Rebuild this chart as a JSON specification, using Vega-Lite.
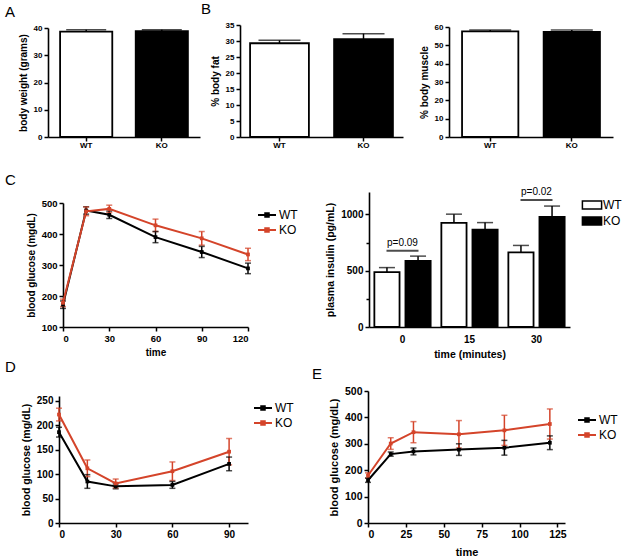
{
  "$schema": "https://vega.github.io/schema/vega-lite/v6.json",
  "padding": {"left": 5, "top": 2, "right": 0, "bottom": 0},
  "background": "white",
  "config": {
    "view": {"stroke": null},
    "font": "Liberation Sans",
    "axis": {"grid": false, "labelOverlap": false, "domainColor": "black", "domainWidth": 1.6, "tickColor": "black", "tickWidth": 1.5, "tickSize": 4, "labelColor": "black", "labelFont": "Liberation Sans", "labelFontWeight": "bold", "labelPadding": 2, "titleFont": "Liberation Sans", "titleFontWeight": "bold", "titleColor": "black", "titlePadding": 5},
    "legend": {"labelFont": "Liberation Sans", "labelColor": "black", "labelFontWeight": "normal", "labelFontSize": 12, "symbolOpacity": 1},
    "title": {"font": "Liberation Sans", "fontSize": 15, "fontWeight": "normal", "anchor": "start", "frame": "group", "color": "black"}
  },
  "datasets": {
    "none": [],
    "bodyweight": [{"genotype": "WT", "value": 38.65, "hi": 39.4}, {"genotype": "KO", "value": 38.8, "hi": 39.4}],
    "fat": [{"genotype": "WT", "value": 29.3, "hi": 30.2}, {"genotype": "KO", "value": 30.6, "hi": 32.3}],
    "muscle": [{"genotype": "WT", "value": 57.6, "hi": 58.3}, {"genotype": "KO", "value": 57.3, "hi": 58.3}],
    "gtt": [
      {"genotype": "WT", "time": 0, "value": 172, "lo": 160, "hi": 184},
      {"genotype": "WT", "time": 15, "value": 476, "lo": 464, "hi": 488},
      {"genotype": "WT", "time": 30, "value": 462, "lo": 450, "hi": 474},
      {"genotype": "WT", "time": 60, "value": 390, "lo": 372, "hi": 408},
      {"genotype": "WT", "time": 90, "value": 342, "lo": 324, "hi": 360},
      {"genotype": "WT", "time": 120, "value": 289, "lo": 272, "hi": 306},
      {"genotype": "KO", "time": 0, "value": 178, "lo": 166, "hi": 190},
      {"genotype": "KO", "time": 15, "value": 473, "lo": 459, "hi": 487},
      {"genotype": "KO", "time": 30, "value": 481, "lo": 469, "hi": 493},
      {"genotype": "KO", "time": 60, "value": 428, "lo": 408, "hi": 448},
      {"genotype": "KO", "time": 90, "value": 386, "lo": 364, "hi": 408},
      {"genotype": "KO", "time": 120, "value": 334, "lo": 314, "hi": 354}
    ],
    "insulin": [
      {"time": "0", "genotype": "WT", "value": 487, "hi": 528},
      {"time": "0", "genotype": "KO", "value": 588, "hi": 630},
      {"time": "15", "genotype": "WT", "value": 925, "hi": 1003},
      {"time": "15", "genotype": "KO", "value": 866, "hi": 928},
      {"time": "30", "genotype": "WT", "value": 663, "hi": 725},
      {"time": "30", "genotype": "KO", "value": 979, "hi": 1075}
    ],
    "sig": [
      {"time": "0", "y": 678, "label": "p=0.09"},
      {"time": "30", "y": 1128, "label": "p=0.02"}
    ],
    "itt": [
      {"genotype": "WT", "time": 0, "value": 186, "lo": 176, "hi": 196},
      {"genotype": "WT", "time": 15, "value": 85, "lo": 71, "hi": 99},
      {"genotype": "WT", "time": 30, "value": 75, "lo": 70, "hi": 80},
      {"genotype": "WT", "time": 60, "value": 78, "lo": 71, "hi": 85},
      {"genotype": "WT", "time": 90, "value": 121, "lo": 107, "hi": 135},
      {"genotype": "KO", "time": 0, "value": 222, "lo": 209, "hi": 235},
      {"genotype": "KO", "time": 15, "value": 112, "lo": 95, "hi": 129},
      {"genotype": "KO", "time": 30, "value": 81, "lo": 72, "hi": 90},
      {"genotype": "KO", "time": 60, "value": 106, "lo": 87, "hi": 125},
      {"genotype": "KO", "time": 90, "value": 146, "lo": 119, "hi": 173}
    ],
    "ptt": [
      {"genotype": "WT", "time": 0, "value": 162, "lo": 154, "hi": 170},
      {"genotype": "WT", "time": 15, "value": 261, "lo": 253, "hi": 269},
      {"genotype": "WT", "time": 30, "value": 271, "lo": 258, "hi": 284},
      {"genotype": "WT", "time": 60, "value": 278, "lo": 256, "hi": 300},
      {"genotype": "WT", "time": 90, "value": 285, "lo": 257, "hi": 313},
      {"genotype": "WT", "time": 120, "value": 304, "lo": 278, "hi": 330},
      {"genotype": "KO", "time": 0, "value": 180, "lo": 170, "hi": 190},
      {"genotype": "KO", "time": 15, "value": 301, "lo": 279, "hi": 323},
      {"genotype": "KO", "time": 30, "value": 344, "lo": 304, "hi": 384},
      {"genotype": "KO", "time": 60, "value": 336, "lo": 284, "hi": 388},
      {"genotype": "KO", "time": 90, "value": 351, "lo": 294, "hi": 408},
      {"genotype": "KO", "time": 120, "value": 375, "lo": 318, "hi": 432}
    ]
  },
  "columns": 1,
  "align": "none",
  "spacing": 0,
  "resolve": {"scale": {"color": "independent", "fill": "independent", "x": "independent", "y": "independent"}, "legend": {"color": "independent", "fill": "independent"}},
  "concat": [
    {
      "columns": 1,
      "align": "none",
      "spacing": 24,
      "resolve": {"scale": {"color": "independent", "fill": "independent", "x": "independent", "y": "independent"}, "legend": {"color": "independent", "fill": "independent"}},
      "concat": [
        {
          "resolve": {"scale": {"fill": "independent", "x": "independent", "y": "independent"}, "legend": {"fill": "independent"}},
          "spacing": 0,
          "bounds": "flush",
          "hconcat": [
            {"width": 43, "height": 1, "data": {"name": "none"}, "mark": "point"},
            {
              "width": 152, "height": 112,
              "title": {"text": "A", "dx": -43},
              "data": {"name": "bodyweight"},
              "encoding": {"x": {"field": "genotype", "type": "nominal", "sort": ["WT", "KO"], "scale": {"paddingInner": 0.31, "paddingOuter": 0.16}, "axis": {"title": null, "labelAngle": 0, "labelFontSize": 8, "labelPadding": 0, "labelOverlap": false}}},
              "layer": [
                {"mark": {"type": "bar", "stroke": "black", "strokeWidth": 1.8},
                 "encoding": {
                   "y": {"field": "value", "type": "quantitative", "scale": {"domain": [0, 40], "range": [112, 3]}, "axis": {"values": [0, 10, 20, 30, 40], "tickCount": 20, "labelOverlap": false, "title": "body weight (grams)", "labelFontSize": 8, "titleFontSize": 10}},
                   "fill": {"field": "genotype", "type": "nominal", "scale": {"domain": ["WT", "KO"], "range": ["white", "black"]}, "legend": null}}},
                {"mark": {"type": "rule", "color": "black", "strokeWidth": 1.5}, "encoding": {"y": {"field": "value", "type": "quantitative"}, "y2": {"field": "hi"}}},
                {"mark": {"type": "tick", "orient": "horizontal", "color": "black", "size": 40, "thickness": 1.5}, "encoding": {"y": {"field": "hi", "type": "quantitative"}}}
              ]
            },
            {"width": 40, "height": 1, "data": {"name": "none"}, "mark": "point"},
            {
              "width": 163, "height": 112,
              "title": {"text": "B", "dx": -39},
              "data": {"name": "fat"},
              "encoding": {"x": {"field": "genotype", "type": "nominal", "sort": ["WT", "KO"], "scale": {"paddingInner": 0.3, "paddingOuter": 0.12}, "axis": {"title": null, "labelAngle": 0, "labelFontSize": 8, "labelPadding": 0, "labelOverlap": false}}},
              "layer": [
                {"mark": {"type": "bar", "stroke": "black", "strokeWidth": 1.8},
                 "encoding": {
                   "y": {"field": "value", "type": "quantitative", "scale": {"domain": [0, 35], "range": [112, 0]}, "axis": {"values": [0, 5, 10, 15, 20, 25, 30, 35], "tickCount": 20, "labelOverlap": false, "title": "% body fat", "labelFontSize": 8, "titleFontSize": 10}},
                   "fill": {"field": "genotype", "type": "nominal", "scale": {"domain": ["WT", "KO"], "range": ["white", "black"]}, "legend": null}}},
                {"mark": {"type": "rule", "color": "black", "strokeWidth": 1.5}, "encoding": {"y": {"field": "value", "type": "quantitative"}, "y2": {"field": "hi"}}},
                {"mark": {"type": "tick", "orient": "horizontal", "color": "black", "size": 42, "thickness": 1.5}, "encoding": {"y": {"field": "hi", "type": "quantitative"}}}
              ]
            },
            {"width": 46, "height": 1, "data": {"name": "none"}, "mark": "point"},
            {
              "width": 164, "height": 112,
              "data": {"name": "muscle"},
              "encoding": {"x": {"field": "genotype", "type": "nominal", "sort": ["WT", "KO"], "scale": {"paddingInner": 0.31, "paddingOuter": 0.16}, "axis": {"title": null, "labelAngle": 0, "labelFontSize": 8, "labelPadding": 0, "labelOverlap": false}}},
              "layer": [
                {"mark": {"type": "bar", "stroke": "black", "strokeWidth": 1.8},
                 "encoding": {
                   "y": {"field": "value", "type": "quantitative", "scale": {"domain": [0, 60], "range": [112, 2]}, "axis": {"values": [0, 10, 20, 30, 40, 50, 60], "tickCount": 20, "labelOverlap": false, "title": "% body muscle", "labelFontSize": 8, "titleFontSize": 10}},
                   "fill": {"field": "genotype", "type": "nominal", "scale": {"domain": ["WT", "KO"], "range": ["white", "black"]}, "legend": null}}},
                {"mark": {"type": "rule", "color": "black", "strokeWidth": 1.5}, "encoding": {"y": {"field": "value", "type": "quantitative"}, "y2": {"field": "hi"}}},
                {"mark": {"type": "tick", "orient": "horizontal", "color": "black", "size": 42, "thickness": 1.5}, "encoding": {"y": {"field": "hi", "type": "quantitative"}}}
              ]
            }
          ]
        },
        {
          "resolve": {"scale": {"color": "independent", "fill": "independent", "x": "independent", "y": "independent"}, "legend": {"color": "independent", "fill": "independent"}},
          "spacing": 0,
          "bounds": "flush",
          "hconcat": [
            {"width": 58, "height": 1, "data": {"name": "none"}, "mark": "point"},
            {
              "width": 185, "height": 135,
              "title": {"text": "C", "dx": -58},
              "data": {"name": "gtt"},
              "encoding": {
                "x": {"field": "time", "type": "quantitative", "scale": {"domain": [0, 120], "nice": false}, "axis": {"values": [0, 30, 60, 90, 120], "tickCount": 20, "labelOverlap": false, "title": "time", "labelFontSize": 9.5, "titleFontSize": 10}},
                "color": {"field": "genotype", "type": "nominal", "scale": {"domain": ["WT", "KO"], "range": ["black", "#d4442a"]},
                  "legend": {"title": null, "orient": "right", "offset": -8, "padding": 14, "symbolType": "M-1.125,0H1.125M-0.22,-0.22H0.22V0.22H-0.22Z", "symbolSize": 256, "symbolStrokeWidth": 2, "labelOffset": 3, "rowPadding": 0}}
              },
              "layer": [
                {"mark": {"type": "rule", "strokeWidth": 1.5}, "encoding": {"y": {"field": "lo", "type": "quantitative", "scale": {"domain": [100, 500], "range": [135, 11]}, "axis": {"values": [100, 200, 300, 400, 500], "tickCount": 20, "labelOverlap": false, "title": "blood glucose (mgdL)", "labelFontSize": 9.5, "titleFontSize": 10}}, "y2": {"field": "hi"}}},
                {"mark": {"type": "tick", "orient": "horizontal", "size": 6, "thickness": 1.5}, "encoding": {"y": {"field": "lo", "type": "quantitative"}}},
                {"mark": {"type": "tick", "orient": "horizontal", "size": 6, "thickness": 1.5}, "encoding": {"y": {"field": "hi", "type": "quantitative"}}},
                {"mark": {"type": "line", "strokeWidth": 2}, "encoding": {"y": {"field": "value", "type": "quantitative"}}},
                {"mark": {"type": "point", "shape": "square", "filled": true, "size": 14, "opacity": 1}, "encoding": {"y": {"field": "value", "type": "quantitative"}}},
                {"data": {"values": [{}]}, "mark": {"type": "text", "align": "left", "baseline": "middle", "fontSize": 10.5, "font": "Liberation Sans"},
                 "encoding": {"x": {"datum": 9, "type": "quantitative"}, "y": {"datum": 139, "type": "quantitative"}, "text": {"value": "p<0.05 by 2-way ANOVA"}, "color": {"value": "black"}}}
              ]
            },
            {"width": 121, "height": 1, "data": {"name": "none"}, "mark": "point"},
            {
              "width": 201, "height": 135,
              "data": {"name": "insulin"},
              "resolve": {"axis": {"y": "independent"}},
              "encoding": {
                "x": {"field": "time", "type": "nominal", "sort": ["0", "15", "30"], "scale": {"paddingInner": 0.16, "paddingOuter": 0.08}, "axis": {"title": "time (minutes)", "labelAngle": 0, "ticks": false, "labelPadding": 7, "labelFontSize": 10, "titleFontSize": 10.5, "labelOverlap": false}}
              },
              "layer": [
                {"mark": {"type": "bar", "stroke": "black", "strokeWidth": 1.8},
                 "encoding": {
                   "xOffset": {"field": "genotype", "type": "nominal", "sort": ["WT", "KO"], "scale": {"paddingInner": 0.19, "paddingOuter": 0}},
                   "y": {"field": "value", "type": "quantitative", "scale": {"domain": [0, 1200]}, "axis": {"orient": "left", "values": [0, 500, 1000], "tickCount": 20, "format": "d", "labelOverlap": false, "title": "plasma insulin (pg/mL)", "labelFontSize": 10, "titleFontSize": 10.5}},
                   "fill": {"field": "genotype", "type": "nominal", "scale": {"domain": ["WT", "KO"], "range": ["white", "black"]},
                     "legend": {"title": null, "orient": "right", "offset": 9, "padding": 4, "symbolType": "M-1.2,-0.5H1.2V0.5H-1.2Z", "symbolSize": 256, "symbolStrokeColor": "black", "symbolStrokeWidth": 1.5, "labelOffset": 2, "rowPadding": 0}}}},
                {"mark": {"type": "rule", "color": "black", "strokeWidth": 1.5}, "encoding": {"xOffset": {"field": "genotype", "type": "nominal", "sort": ["WT", "KO"]}, "y": {"field": "value", "type": "quantitative", "axis": null}, "y2": {"field": "hi"}}},
                {"mark": {"type": "tick", "orient": "horizontal", "color": "black", "size": 16, "thickness": 1.5}, "encoding": {"xOffset": {"field": "genotype", "type": "nominal", "sort": ["WT", "KO"]}, "y": {"field": "hi", "type": "quantitative", "axis": null}}},
                {"data": {"name": "sig"}, "mark": {"type": "tick", "orient": "horizontal", "color": "black", "size": 32, "thickness": 2}, "encoding": {"y": {"field": "y", "type": "quantitative", "axis": null}}},
                {"data": {"name": "sig"}, "mark": {"type": "text", "baseline": "bottom", "dy": -3, "fontSize": 10, "font": "Liberation Sans", "color": "black"}, "encoding": {"y": {"field": "y", "type": "quantitative", "axis": {"orient": "left", "values": [250, 750], "tickCount": 20, "labels": false, "domain": false, "title": null, "tickSize": 3}}, "text": {"field": "label"}}}
              ]
            }
          ]
        }
      ]
    },
    {
      "resolve": {"scale": {"color": "independent", "x": "independent", "y": "independent"}, "legend": {"color": "independent"}},
      "spacing": 0,
      "bounds": "flush",
      "hconcat": [
        {"width": 54, "height": 1, "data": {"name": "none"}, "mark": "point"},
        {
          "width": 189, "height": 132,
          "title": {"text": "D", "dx": -54, "offset": 16},
          "data": {"name": "itt"},
          "encoding": {
            "x": {"field": "time", "type": "quantitative", "scale": {"domain": [0, 100], "nice": false}, "axis": {"values": [0, 30, 60, 90], "tickCount": 20, "labelOverlap": false, "title": null, "labelFontSize": 10}},
            "color": {"field": "genotype", "type": "nominal", "scale": {"domain": ["WT", "KO"], "range": ["black", "#d4442a"]},
              "legend": {"title": null, "orient": "right", "offset": -2, "padding": 8, "symbolType": "M-1.125,0H1.125M-0.22,-0.22H0.22V0.22H-0.22Z", "symbolSize": 256, "symbolStrokeWidth": 2, "labelOffset": 3, "rowPadding": 0}}
          },
          "layer": [
            {"mark": {"type": "rule", "strokeWidth": 1.5}, "encoding": {"y": {"field": "lo", "type": "quantitative", "scale": {"domain": [0, 250], "range": [132, 5]}, "axis": {"values": [0, 50, 100, 150, 200, 250], "tickCount": 20, "labelOverlap": false, "title": "blood glucose (mg/dL)", "labelFontSize": 10, "titleFontSize": 10.5}}, "y2": {"field": "hi"}}},
            {"mark": {"type": "tick", "orient": "horizontal", "size": 6, "thickness": 1.5}, "encoding": {"y": {"field": "lo", "type": "quantitative"}}},
            {"mark": {"type": "tick", "orient": "horizontal", "size": 6, "thickness": 1.5}, "encoding": {"y": {"field": "hi", "type": "quantitative"}}},
            {"mark": {"type": "line", "strokeWidth": 2}, "encoding": {"y": {"field": "value", "type": "quantitative"}}},
            {"mark": {"type": "point", "shape": "square", "filled": true, "size": 14, "opacity": 1}, "encoding": {"y": {"field": "value", "type": "quantitative"}}},
            {"data": {"values": [{}]}, "mark": {"type": "text", "align": "left", "baseline": "middle", "fontSize": 10.5, "font": "Liberation Sans"},
             "encoding": {"x": {"datum": 7.4, "type": "quantitative"}, "y": {"datum": 22, "type": "quantitative"}, "text": {"value": "p=0.15 by 2-way ANOVA"}, "color": {"value": "black"}}}
          ]
        },
        {"width": 120, "height": 1, "data": {"name": "none"}, "mark": "point"},
        {
          "width": 197, "height": 132,
          "title": {"text": "E", "dx": -56, "offset": 4},
          "data": {"name": "ptt"},
          "encoding": {
            "x": {"field": "time", "type": "quantitative", "scale": {"domain": [0, 130], "nice": false}, "axis": {"values": [0, 25, 50, 75, 100, 125], "tickCount": 20, "labelOverlap": false, "title": "time", "titlePadding": 7, "labelFontSize": 10.5, "titleFontSize": 11}},
            "color": {"field": "genotype", "type": "nominal", "scale": {"domain": ["WT", "KO"], "range": ["black", "#d4442a"]},
              "legend": {"title": null, "orient": "right", "offset": -7, "padding": 20, "symbolType": "M-1.125,0H1.125M-0.22,-0.22H0.22V0.22H-0.22Z", "symbolSize": 256, "symbolStrokeWidth": 2, "labelOffset": 3, "rowPadding": 0}}
          },
          "layer": [
            {"mark": {"type": "rule", "strokeWidth": 1.5}, "encoding": {"y": {"field": "lo", "type": "quantitative", "scale": {"domain": [0, 500]}, "axis": {"values": [0, 100, 200, 300, 400, 500], "tickCount": 20, "labelOverlap": false, "title": "blood glucose (mg/dL)", "labelFontSize": 10.5, "titleFontSize": 11}}, "y2": {"field": "hi"}}},
            {"mark": {"type": "tick", "orient": "horizontal", "size": 6, "thickness": 1.5}, "encoding": {"y": {"field": "lo", "type": "quantitative"}}},
            {"mark": {"type": "tick", "orient": "horizontal", "size": 6, "thickness": 1.5}, "encoding": {"y": {"field": "hi", "type": "quantitative"}}},
            {"mark": {"type": "line", "strokeWidth": 2}, "encoding": {"y": {"field": "value", "type": "quantitative"}}},
            {"mark": {"type": "point", "shape": "square", "filled": true, "size": 14, "opacity": 1}, "encoding": {"y": {"field": "value", "type": "quantitative"}}},
            {"data": {"values": [{}]}, "mark": {"type": "text", "align": "left", "baseline": "middle", "fontSize": 10.5, "font": "Liberation Sans"},
             "encoding": {"x": {"datum": 8, "type": "quantitative"}, "y": {"datum": 42, "type": "quantitative"}, "text": {"value": "p=0.10 by 2-way ANOVA"}, "color": {"value": "black"}}}
          ]
        }
      ]
    }
  ]
}
